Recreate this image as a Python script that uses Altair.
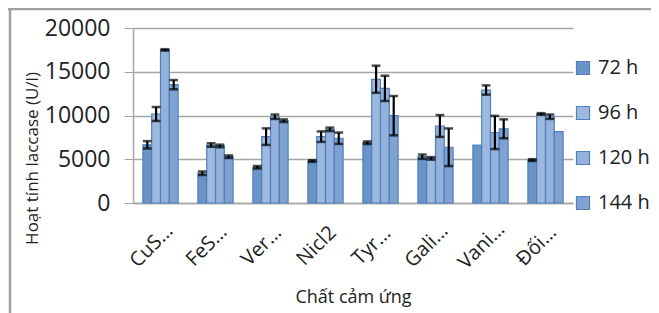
import altair as alt
import pandas as pd

cats = ["CuS…", "FeS…", "Ver…", "Nicl2", "Tyr…", "Gali…", "Vani…", "Đối…"]
series = ["72 h", "96 h", "120 h", "144 h"]
v72 = [6650, 3400, 4080, 4800, 6890, 5290, 6630, 4910]
e72 = [420, 200, 150, 100, 150, 250, 0, 100]
v96 = [10170, 6630, 7580, 7580, 14140, 5100, 12910, 10170]
e96 = [800, 200, 950, 600, 1550, 150, 530, 100]
v120 = [17500, 6520, 9860, 8420, 13100, 8800, 8060, 9860]
e120 = [80, 150, 250, 200, 1450, 1250, 1900, 250]
v144 = [13520, 5290, 9400, 7400, 9980, 6370, 8480, 8150]
e144 = [530, 150, 150, 650, 2250, 2150, 1080, 0]

colors = ["#6A93C8", "#9DB9DF", "#93B1DA", "#7FA2D2"]

rows = []
for s, vals, errs in zip(series, [v72, v96, v120, v144], [e72, e96, e120, e144]):
    for c, v, e in zip(cats, vals, errs):
        rows.append({"cat": c, "series": s, "value": v, "err": e,
                     "lo": v - e, "hi": v + e})
df = pd.DataFrame(rows)
cat_df = pd.DataFrame({"cat": cats})

FONT = "Open Sans"

xscale = alt.Scale(paddingInner=0.36, paddingOuter=0.18)
xaxis = alt.Axis(labels=False, ticks=False,
                 domainColor="#A6A6A6", domainWidth=1.5,
                 titleFontSize=18, titleFontWeight="normal",
                 titleY=94, titleBaseline="middle", titleColor="#222")
x = alt.X("cat:N", sort=cats, title="Chất cảm ứng", scale=xscale, axis=xaxis)
xo = alt.XOffset("series:N", sort=series, scale=alt.Scale(paddingInner=0, paddingOuter=0))

yscale = alt.Scale(domain=[0, 20000], nice=False)
ytitle = "Hoạt tính laccase (U/l)"
yaxis = alt.Axis(values=[0, 5000, 10000, 15000, 20000], format="d",
                 labelFontSize=23, tickSize=9, tickColor="#A6A6A6",
                 gridColor="#A6A6A6", gridWidth=1.3,
                 domainColor="#A6A6A6", domainWidth=1.5,
                 labelPadding=14, labelColor="#222",
                 titleFontSize=17, titleFontWeight="normal",
                 titleColor="#222", titleX=-101, titleY=130,
                 titleAlign="center", titleBaseline="middle")

bars = alt.Chart(df).mark_bar(stroke="#4F81BD", strokeWidth=1.2).encode(
    x=x,
    xOffset=xo,
    y=alt.Y("value:Q", title=ytitle, scale=yscale, axis=yaxis),
    color=alt.Color("series:N", sort=series,
                    scale=alt.Scale(domain=series, range=colors),
                    legend=alt.Legend(title=None, orient="none", legendX=440, legendY=30,
                                      symbolType="square", symbolSize=170,
                                      symbolStrokeColor="#4F81BD", symbolStrokeWidth=1.2,
                                      labelFontSize=20, labelColor="#222",
                                      rowPadding=25, labelOffset=5)),
)

err_df = alt.Chart(df).transform_filter("datum.err > 0")
ylo = alt.Y("lo:Q", title=ytitle, scale=yscale, axis=yaxis)
yhi = alt.Y("hi:Q", title=ytitle, scale=yscale, axis=yaxis)
rule = err_df.mark_rule(color="black", strokeWidth=2.2).encode(
    x=x, xOffset=xo, y=ylo, y2="hi:Q")
tick_lo = err_df.mark_tick(color="black", thickness=2.5).encode(
    x=x, xOffset=xo, y=ylo)
tick_hi = err_df.mark_tick(color="black", thickness=2.5).encode(
    x=x, xOffset=xo, y=yhi)

labels = alt.Chart(cat_df).mark_text(
    angle=315, align="center", baseline="middle", fontSize=20, color="#222", font=FONT
).encode(
    x=alt.X("cat:N", sort=cats, title="Chất cảm ứng", scale=xscale, axis=xaxis, bandPosition=0.25),
    y=alt.value(218),
    text="cat:N",
)

frame_top = alt.Chart(pd.DataFrame({"a": [0]})).mark_rule(color="#A0A0A0", strokeWidth=2.5).encode(
    x=alt.value(-125), x2=alt.value(530), y=alt.value(-19))
frame_left = alt.Chart(pd.DataFrame({"a": [0]})).mark_rule(color="#A0A0A0", strokeWidth=2.5).encode(
    x=alt.value(-123), y=alt.value(-20), y2=alt.value(300))

chart = alt.layer(bars, rule, tick_lo, tick_hi, labels, frame_top, frame_left).properties(
    width=440, height=175,
    autosize=alt.AutoSizeParams(type="none"),
    padding={"left": 125, "top": 20, "right": 78, "bottom": 110},
).configure(font=FONT).configure_view(stroke=None).configure_axisX(grid=False)

chart.save("out.html", embed_options={"renderer": "svg", "actions": False})
